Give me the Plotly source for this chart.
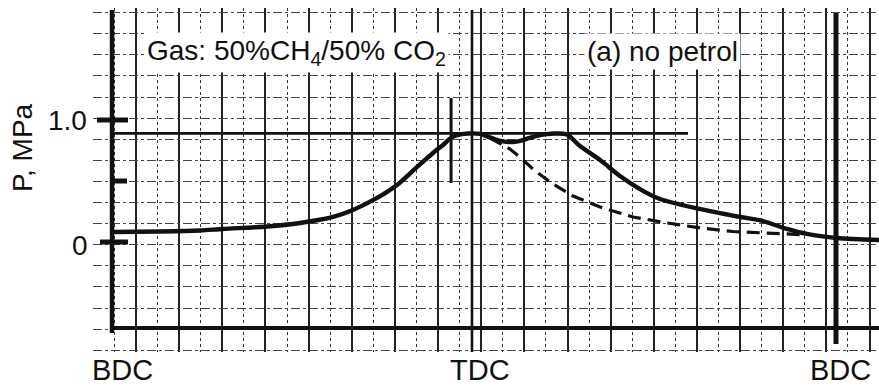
import plotly.graph_objects as go

# ---------------- data ----------------
crank_solid = [-179.5, -156.1, -136.3, -124.8, -102.9, -86.5, -70.1, -60.2, -48.2, -38.3,
               -28.3, -20.4, -15.4, -11.9, -8.5, -3.0, 3.0, 6.5, 10.0, 13.0, 16.0, 19.4,
               23.0, 26.3, 31.3, 36.0, 40.3, 46.2, 52.7, 62.7, 72.6, 82.5, 92.5, 110.9,
               132.3, 143.7, 155.6, 165.6, 180.5, 201.4]
p_solid = [0.082, 0.086, 0.094, 0.107, 0.127, 0.156, 0.205, 0.262, 0.361, 0.467,
           0.615, 0.730, 0.795, 0.848, 0.875, 0.889, 0.886, 0.866, 0.845, 0.829, 0.821,
           0.820, 0.829, 0.846, 0.870, 0.884, 0.889, 0.881, 0.787, 0.672, 0.541, 0.434,
           0.352, 0.275, 0.205, 0.172, 0.107, 0.066, 0.033, 0.016]

crank_dashed = [8.0, 12.9, 17.9, 23.9, 29.3, 37.8, 49.2, 62.7, 79.1, 96.0, 112.4,
                128.8, 145.7, 162.1]
p_dashed = [0.852, 0.811, 0.762, 0.680, 0.598, 0.492, 0.377, 0.287, 0.205, 0.156, 0.115,
            0.086, 0.074, 0.061]

stroke_vals = [-180, 0, 180]
stroke_labels = ["BDC", "TDC", "BDC"]
p_tick_vals = [0.0, 0.5, 1.0]
p_tick_labels = ["0", "", "1.0"]
reference_level = 0.89      # horizontal reference line, MPa
cursor_deg = -11.4          # short vertical cursor marker
title_text = "Gas: 50%CH<sub>4</sub>/50% CO<sub>2</sub>"
case_text = "(a) no petrol"
y_title = "P, MPa"

# ---------------- geometry / style ----------------
W, H = 879, 387
ML, MR, MT, MB = 93, 0, 8, 35
PX_PER_DEG = 2.011
TDC_PX = 474
P0_PY = 242
PX_PER_MPA = 122.0

def deg_at(px):
    return (px - TDC_PX) / PX_PER_DEG

def p_at(py):
    return (P0_PY - py) / PX_PER_MPA

def paper_x(px):
    return (px - ML) / (W - ML - MR)

x_range = [deg_at(ML), deg_at(W - MR)]
y_range = [p_at(H - MB), p_at(MT)]

grid_major_dt = 43.15 / PX_PER_DEG
grid_x0 = deg_at(136)
grid_y_dt = 21.1 / PX_PER_MPA
grid_y0 = p_at(97)

INK = "#111111"
FONT = "Liberation Sans, Arial, sans-serif"

fig = go.Figure()

fig.add_trace(go.Scatter(x=crank_dashed, y=p_dashed, mode="lines",
                         line=dict(color=INK, width=3.2, dash="13px,7px"),
                         hoverinfo="skip", showlegend=False))
fig.add_trace(go.Scatter(x=crank_solid, y=p_solid, mode="lines",
                         line=dict(color=INK, width=4.4, shape="spline", smoothing=0.8),
                         hoverinfo="skip", showlegend=False))

shapes = []
# lighten the grid in the top strip (behind the captions)
shapes.append(dict(type="rect", xref="paper", yref="y", x0=0, x1=1,
                   y0=p_at(76), y1=y_range[1], fillcolor="white", opacity=0.72,
                   line=dict(width=0), layer="between"))
# left axis line at BDC
shapes.append(dict(type="line", x0=stroke_vals[0], x1=stroke_vals[0],
                   y0=p_at(333), y1=p_at(10), line=dict(color=INK, width=4.5)))
# bottom trace baseline
shapes.append(dict(type="line", x0=stroke_vals[0], x1=x_range[1],
                   y0=p_at(328), y1=p_at(328), line=dict(color=INK, width=4)))
# TDC line
shapes.append(dict(type="line", x0=stroke_vals[1] - 1, x1=stroke_vals[1] - 1,
                   y0=y_range[0], y1=p_at(10), line=dict(color=INK, width=2.6)))
# right BDC line
shapes.append(dict(type="line", x0=stroke_vals[2], x1=stroke_vals[2],
                   y0=p_at(344), y1=p_at(13), line=dict(color=INK, width=5)))
# reference level line
shapes.append(dict(type="line", x0=stroke_vals[0], x1=deg_at(688),
                   y0=reference_level, y1=reference_level, line=dict(color=INK, width=2.6)))
# cursor marker
shapes.append(dict(type="line", x0=cursor_deg, x1=cursor_deg,
                   y0=p_at(183), y1=p_at(98), line=dict(color=INK, width=3)))
# pressure tick marks on the left axis
tick_extent = {0.0: (100, 128), 0.5: (113, 127), 1.0: (97, 128)}
for v in p_tick_vals:
    a, b = tick_extent[v]
    shapes.append(dict(type="line", x0=deg_at(a), x1=deg_at(b), y0=v, y1=v,
                       line=dict(color=INK, width=5)))

annotations = []
label_px = {"0": 80, "1.0": 67}
for v, lab in zip(p_tick_vals, p_tick_labels):
    if lab:
        annotations.append(dict(text=lab, xref="paper", yref="y",
                                x=paper_x(label_px[lab]), y=v,
                                yshift=-3 if lab == "0" else 0,
                                xanchor="center", yanchor="middle", showarrow=False,
                                font=dict(family=FONT, size=28, color=INK)))
shift = {0: 10, 1: 6, 2: 5}
for i, (v, lab) in enumerate(zip(stroke_vals, stroke_labels)):
    annotations.append(dict(text=lab, xref="x", yref="paper", x=v, xshift=shift[i],
                            y=-(370 - (H - MB)) / (H - MT - MB),
                            xanchor="center", yanchor="middle", showarrow=False,
                            font=dict(family=FONT, size=29, color=INK)))
annotations.append(dict(text=y_title, textangle=-90, xref="paper", yref="y",
                        x=paper_x(22), y=p_at(148),
                        xanchor="center", yanchor="middle", showarrow=False,
                        font=dict(family=FONT, size=28, color=INK)))
annotations.append(dict(text=title_text, xref="x", yref="y", x=deg_at(144), y=p_at(52),
                        xanchor="left", yanchor="middle", showarrow=False,
                        bgcolor="white", borderpad=2,
                        font=dict(family=FONT, size=28, color=INK)))
annotations.append(dict(text=case_text, xref="x", yref="y", x=deg_at(584), y=p_at(51),
                        xanchor="left", yanchor="middle", showarrow=False,
                        bgcolor="white", borderpad=2,
                        font=dict(family=FONT, size=28, color=INK)))

fig.update_layout(
    width=W, height=H, autosize=False,
    margin=dict(l=ML, r=MR, t=MT, b=MB, pad=0),
    paper_bgcolor="white", plot_bgcolor="white",
    shapes=shapes, annotations=annotations,
    xaxis=dict(range=x_range, showgrid=True, tickmode="linear", tick0=grid_x0,
               dtick=grid_major_dt, gridcolor="#222222", gridwidth=1.5,
               showticklabels=False, ticks="", zeroline=False, showline=False,
               minor=dict(tickmode="linear", tick0=grid_x0 + grid_major_dt / 2,
                          dtick=grid_major_dt, showgrid=True, gridcolor="#333333",
                          gridwidth=1.4, griddash="dot", ticks="")),
    yaxis=dict(range=y_range, showgrid=True, tickmode="linear", tick0=grid_y0,
               dtick=grid_y_dt, gridcolor="#444444", gridwidth=1.3, griddash="dashdot",
               showticklabels=False, ticks="", zeroline=False, showline=False),
)

fig.write_html("out.html")
